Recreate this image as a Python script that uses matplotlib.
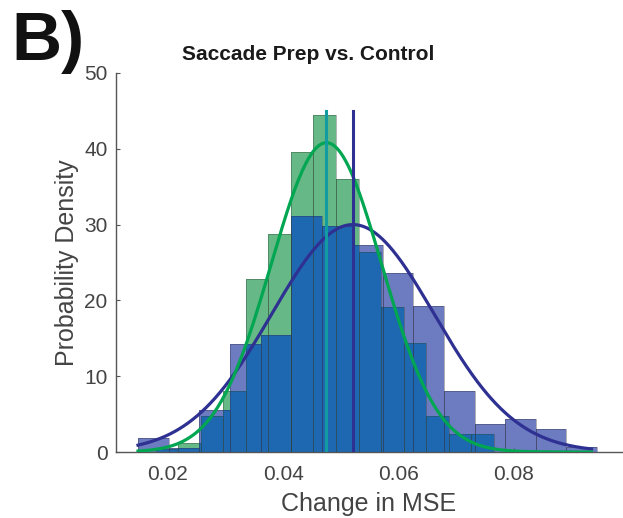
import numpy as np
import matplotlib
matplotlib.use("Agg")
import matplotlib.pyplot as plt

plt.rcParams["font.family"] = ["Liberation Sans", "DejaVu Sans"]

TEXT = "#444444"
AXIS = "#555555"
COLOR_CTRL_BAR = "#6d7bc1"
COLOR_PREP_BAR = "#66b886"
COLOR_OVERLAP = "#1e68b2"
COLOR_CTRL_LINE = "#2e3192"
COLOR_PREP_LINE = "#00a651"
COLOR_PREP_MEAN = "#129ca2"

# control histogram (density), equal-width bins
ctrl_bin_start = 0.01485
ctrl_bin_width = 0.005306
ctrl_density = [1.8, 0.57, 5.55, 14.2, 15.5, 31.1, 29.8, 27.3, 23.6, 19.3,
                8.06, 3.7, 4.36, 3.08, 0.6]

# saccade prep histogram (density)
prep_bin_start = 0.01785
prep_bin_width = 0.003914
prep_density = [0.4, 1.15, 4.75, 8.1, 22.8, 28.8, 39.6, 44.4, 36.0, 26.4,
                19.1, 14.4, 4.76, 2.35, 2.35]

# fitted normal curves: mean, sd, peak height
ctrl_mean, ctrl_sd, ctrl_peak = 0.0521, 0.0141, 30.0
prep_mean, prep_sd, prep_peak = 0.0475, 0.0096, 40.8
fit_range = (0.0148, 0.0935)
mean_line_height = 45.0

ctrl_edges = ctrl_bin_start + ctrl_bin_width * np.arange(len(ctrl_density) + 1)
prep_edges = prep_bin_start + prep_bin_width * np.arange(len(prep_density) + 1)


def step_value(edges, heights, x):
    i = np.searchsorted(edges, x, side="right") - 1
    if i < 0 or i >= len(heights):
        return 0.0
    return heights[i]


fig = plt.figure(figsize=(6.23, 5.18), dpi=100)
ax = fig.add_axes([0.1862, 0.1274, 0.8115, 0.7317])

ax.bar(ctrl_edges[:-1], ctrl_density, width=ctrl_bin_width, align="edge",
       color=COLOR_CTRL_BAR, edgecolor="none", zorder=1)
ax.bar(prep_edges[:-1], prep_density, width=prep_bin_width, align="edge",
       color=COLOR_PREP_BAR, edgecolor="none", zorder=1)

# overlap of the two histograms
all_edges = np.union1d(ctrl_edges, prep_edges)
left = all_edges[:-1]
widths = np.diff(all_edges)
mids = left + widths / 2
overlap = [min(step_value(ctrl_edges, ctrl_density, m),
               step_value(prep_edges, prep_density, m)) for m in mids]
ax.bar(left, overlap, width=widths, align="edge", color=COLOR_OVERLAP,
       edgecolor="none", zorder=2)

# bin outlines
ax.bar(ctrl_edges[:-1], ctrl_density, width=ctrl_bin_width, align="edge",
       fill=False, edgecolor="#333344", linewidth=0.6, alpha=0.45, zorder=3)
ax.bar(prep_edges[:-1], prep_density, width=prep_bin_width, align="edge",
       fill=False, edgecolor="#334433", linewidth=0.6, alpha=0.45, zorder=3)

xs = np.linspace(fit_range[0], fit_range[1], 400)
ax.plot(xs, ctrl_peak * np.exp(-0.5 * ((xs - ctrl_mean) / ctrl_sd) ** 2),
        color=COLOR_CTRL_LINE, linewidth=2.3, zorder=4)
ax.plot(xs, prep_peak * np.exp(-0.5 * ((xs - prep_mean) / prep_sd) ** 2),
        color=COLOR_PREP_LINE, linewidth=2.3, zorder=5)

ax.plot([prep_mean, prep_mean], [0, mean_line_height], color=COLOR_PREP_MEAN,
        linewidth=2.2, zorder=6)
ax.plot([ctrl_mean, ctrl_mean], [0, mean_line_height], color=COLOR_CTRL_LINE,
        linewidth=2.2, zorder=6)

ax.set_xlim(0.01098, 0.09873)
ax.set_ylim(0, 50)
ax.set_xticks([0.02, 0.04, 0.06, 0.08])
ax.set_xticklabels(["0.02", "0.04", "0.06", "0.08"])
ax.set_yticks([0, 10, 20, 30, 40, 50])

for side in ["top", "right"]:
    ax.spines[side].set_visible(False)
for side in ["left", "bottom"]:
    ax.spines[side].set_color(AXIS)
    ax.spines[side].set_linewidth(1.0)

ax.tick_params(direction="in", length=3, width=0.8, color=AXIS,
               labelsize=15, labelcolor=TEXT)
ax.tick_params(axis="x", pad=9)
ax.tick_params(axis="y", pad=6)

ax.set_xlabel("Change in MSE", fontsize=18, color=TEXT, labelpad=6)
ax.set_ylabel("Probability Density", fontsize=18, color=TEXT, labelpad=4)

fig.text(0.4944, 1 - 55 / 518, "Saccade Prep vs. Control", fontsize=15,
         fontweight="bold", color="#1a1a1a", ha="center", va="center")
fig.text(0.018, 1 - 60 / 518, "B)", fontsize=50, fontweight="bold",
         color="#111111", ha="left", va="baseline",
         family=["Liberation Sans Narrow", "Liberation Sans"])

fig.savefig("out.png", dpi=100)
